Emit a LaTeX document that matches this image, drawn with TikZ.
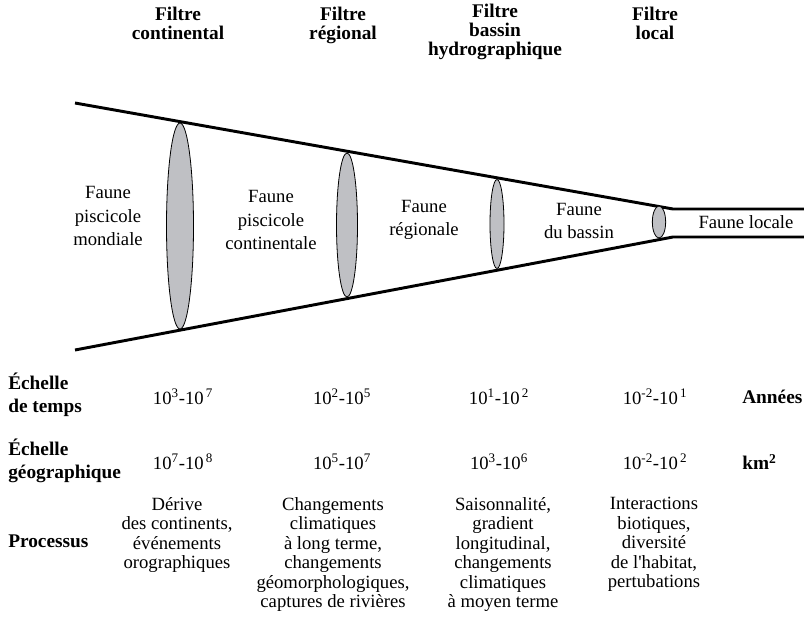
\documentclass[tikz,border=0pt]{standalone}
\usepackage{fontspec}
\setmainfont{Liberation Serif}
\usetikzlibrary{shapes.geometric}

\begin{document}
\begin{tikzpicture}[
  x=0.75pt, y=-0.75pt,
  head/.style={anchor=north, inner sep=0pt, align=center,
    font=\fontsize{14.5}{14.2}\selectfont\bfseries},
  faune/.style={align=center, inner sep=0pt, font=\fontsize{14}{17.5}\selectfont},
  rowlab/.style={anchor=west, inner sep=0pt, align=left,
    font=\fontsize{14.5}{17}\selectfont\bfseries},
  val/.style={inner sep=0pt, font=\fontsize{14}{16}\selectfont},
  proc/.style={anchor=north, inner sep=0pt, align=center,
    font=\fontsize{14}{14.6}\selectfont},
  filtre/.style={ellipse, draw, fill=filtgray, line width=0.6pt, inner sep=0pt},
  edge/.style={line width=2.2pt}
]
\definecolor{filtgray}{RGB}{191,192,196}
\useasboundingbox (0,0) rectangle (804,628);

% Filter titles
\node[head] (hcont) at (178,7) {Filtre\\continental};
\node[head] (hreg) at (343,7) {Filtre\\régional};
\node[head] (hbas) at (495,4) {Filtre\\bassin\\hydrographique};
\node[head] (hloc) at (655,7) {Filtre\\local};

% Funnel
\coordinate (upA) at (75,103);
\coordinate (upB) at (673,209);
\coordinate (upC) at (804,209);
\coordinate (loA) at (75,350);
\coordinate (loB) at (673,237);
\coordinate (loC) at (804,237);
\draw[edge] (upA) -- (upB) -- (upC);
\draw[edge] (loA) -- (loB) -- (loC);

% Filters (widths shrink towards the local scale)
\node[filtre, minimum width=20.25pt, minimum height=154.5pt] (fcont) at (180,226) {};
\node[filtre, minimum width=15.75pt, minimum height=108pt] (freg) at (347,225) {};
\node[filtre, minimum width=10.5pt, minimum height=66.75pt] (fbas) at (497,224) {};
\node[filtre, minimum width=10pt, minimum height=24pt] (floc) at (659,222) {};

% Fish faunas
\node[faune] (fmond) at (108,216) {Faune\\piscicole\\mondiale};
\node[faune] (fconti) at (271,220) {Faune\\piscicole\\continentale};
\node[faune] (fregio) at (424,220) {Faune\\régionale};
\node[faune] (fbassin) at (579,221) {Faune\\du bassin};
\node[faune] (flocale) at (746,222) {Faune locale};

% Time scale
\node[rowlab] (ltemps) at (8,395) {Échelle\\de temps};
\node[val] (t1) at (183,397) {10\textsuperscript{3}-10\textsuperscript{\,7}};
\node[val] (t2) at (342,397) {10\textsuperscript{2}-10\textsuperscript{5}};
\node[val] (t3) at (499,397) {10\textsuperscript{1}-10\textsuperscript{\,2}};
\node[val] (t4) at (655,397) {10\textsuperscript{-2}-10\textsuperscript{\,1}};
\node[rowlab] (uannee) at (742,397) {Années};

% Geographic scale
\node[rowlab] (lgeo) at (8,461) {Échelle\\géographique};
\node[val] (g1) at (183,462) {10\textsuperscript{7}-10\textsuperscript{\,8}};
\node[val] (g2) at (342,462) {10\textsuperscript{5}-10\textsuperscript{7}};
\node[val] (g3) at (499,462) {10\textsuperscript{3}-10\textsuperscript{6}};
\node[val] (g4) at (655,462) {10\textsuperscript{-2}-10\textsuperscript{\,2}};
\node[rowlab] (ukm) at (742,462) {km\textsuperscript{2}};

% Processes
\node[rowlab] (lproc) at (8,541) {Processus};
\node[proc] (p1) at (177,497) {Dérive\\des continents,\\événements\\orographiques};
\node[proc] (p2) at (333,497) {Changements\\climatiques\\à long terme,\\changements\\géomorphologiques,\\captures de rivières};
\node[proc] (p3) at (503,497) {Saisonnalité,\\gradient\\longitudinal,\\changements\\climatiques\\à moyen terme};
\node[proc] (p4) at (654,497) {Interactions\\biotiques,\\diversité\\de l\textquotesingle habitat,\\pertubations};

\end{tikzpicture}
\end{document}
